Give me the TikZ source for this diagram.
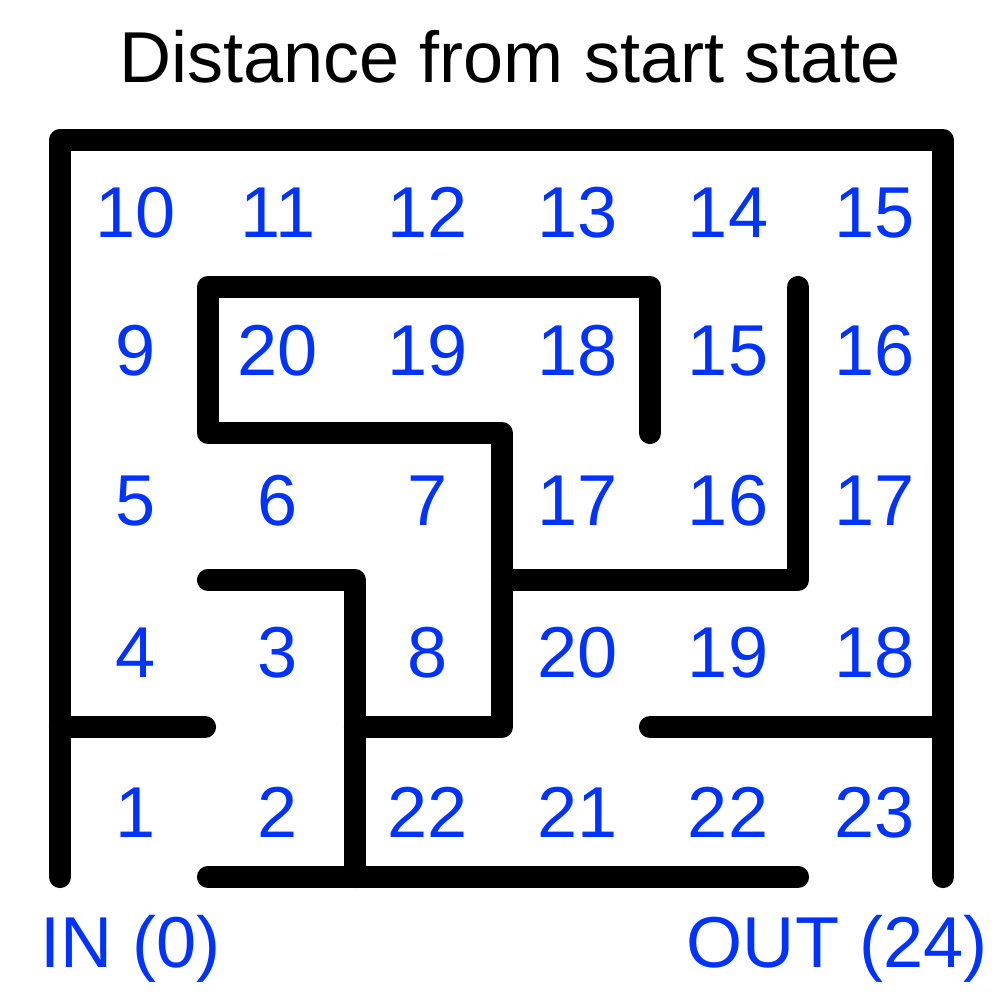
\documentclass[tikz,border=0pt]{standalone}
\usepackage{fontspec}
\setmainfont{Liberation Sans}
\definecolor{numblue}{RGB}{0,51,255}
\begin{document}
\begin{tikzpicture}[x=0.01cm,y=-0.01cm,
wall/.style={line width=6.3pt,line cap=round,line join=round},
num/.style={text=numblue,font=\fontsize{20.5pt}{24pt}\selectfont,anchor=base,inner sep=0pt}]
\useasboundingbox (0,0) rectangle (1000,1000);
\node[font=\fontsize{20.5pt}{24pt}\selectfont,anchor=base,inner sep=0pt] (title) at (510,82) {Distance from start state};
% outer walls
\draw[wall] (60,877)--(60,140)--(943,140)--(943,877);
\draw[wall] (60,727)--(205,727);
\draw[wall] (650,727)--(943,727);
\draw[wall] (208,877)--(798,877);
% inner walls
\draw[wall] (650,433)--(650,287)--(208,287)--(208,433)--(502,433)--(502,727)--(355,727);
\draw[wall] (208,580)--(355,580)--(355,877);
\draw[wall] (502,580)--(798,580)--(798,287);
% distances
\foreach \y/\row [count=\r] in {237/{10,11,12,13,14,15},375/{9,20,19,18,15,16},525/{5,6,7,17,16,17},677/{4,3,8,20,19,18},837/{1,2,22,21,22,23}}
  \foreach \n [count=\c] in \row
    \node[num] (n\r-\c) at ({{136,278,428,578,728,875}[\c-1]},\y) {\n};
\node[num,anchor=base west] (in) at (40,967) {IN (0)};
\node[num,anchor=base east] (out) at (988,967) {OUT (24)};
\end{tikzpicture}
\end{document}
